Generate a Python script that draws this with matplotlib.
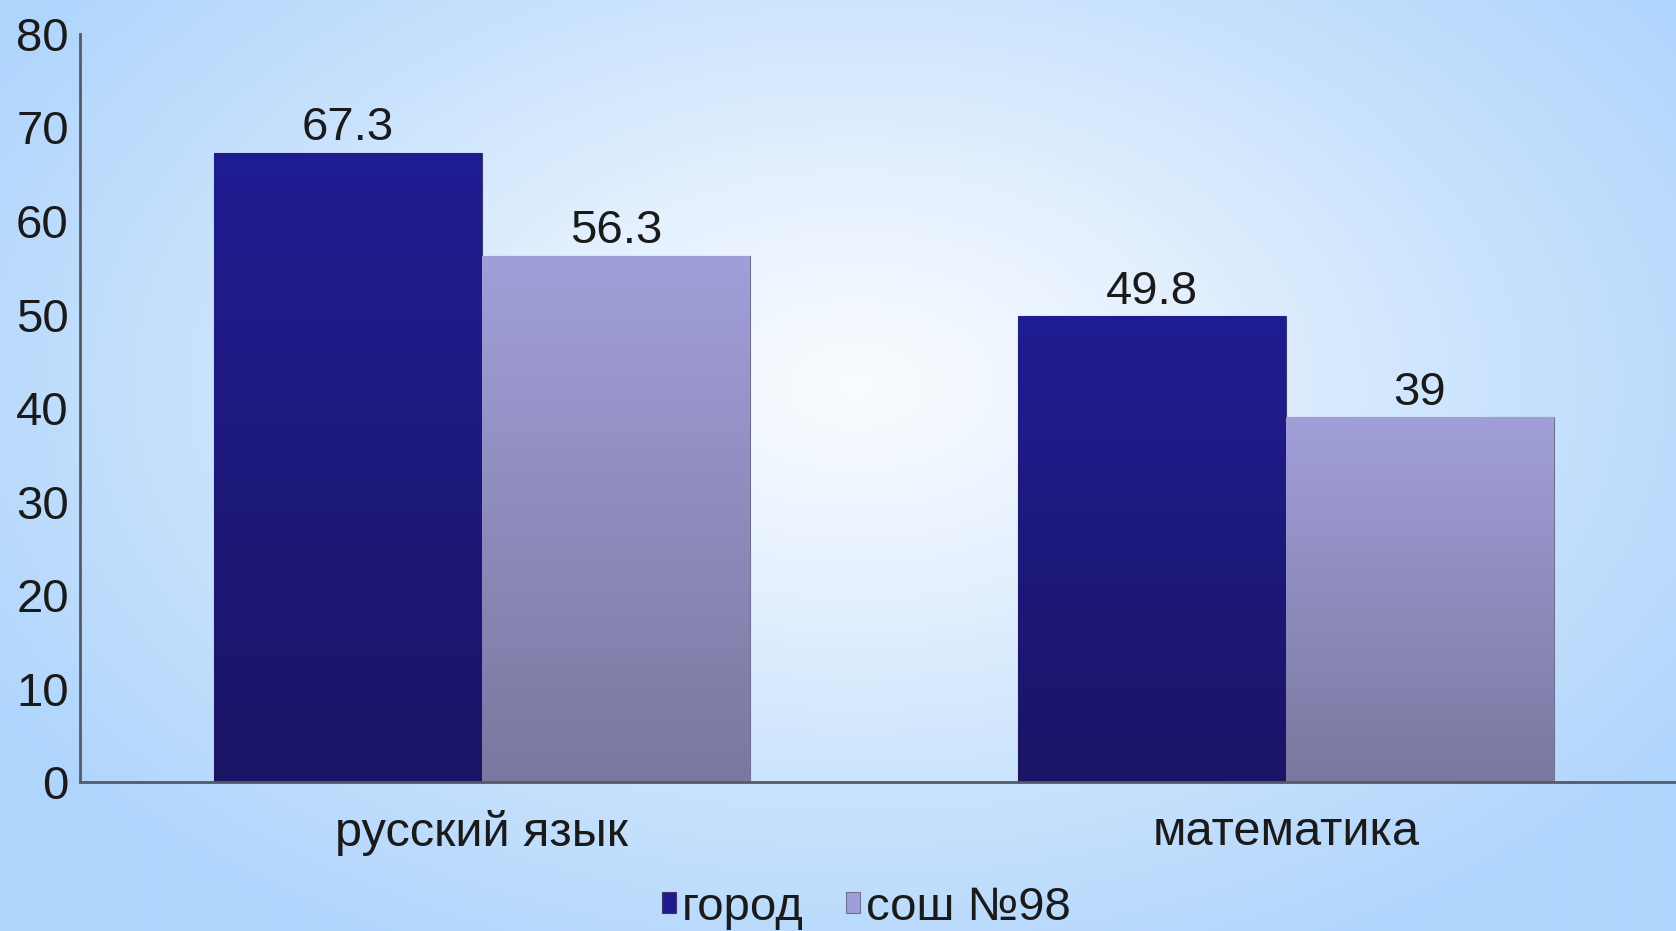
import numpy as np
import matplotlib.pyplot as plt
from matplotlib.colors import LinearSegmentedColormap

plt.rcParams['font.family'] = ['Liberation Sans', 'DejaVu Sans']

categories = ['русский язык', 'математика']
series_names = ['город', 'сош №98']
gorod = [67.3, 49.8]
sosh98 = [56.3, 39]
value_labels = [['67.3', '49.8'], ['56.3', '39']]

fig = plt.figure(figsize=(16.76, 9.31), dpi=100)

# radial gradient background
bg = fig.add_axes([0, 0, 1, 1])
yy, xx = np.mgrid[0:931, 0:1676]
r = np.sqrt(((xx - 855) / 1000.0) ** 2 + ((yy - 385) / 640.0) ** 2)
r = np.clip(r, 0, 1)
bg_cmap = LinearSegmentedColormap.from_list('bg', ['#fafcff', '#e4f0fe', '#c8e2fd', '#b0d5fc'])
bg.imshow(r, cmap=bg_cmap, aspect='auto', extent=[0, 1, 0, 1], vmin=0, vmax=1)
bg.axis('off')

ax = fig.add_axes([0.0477, 0.160, 0.9523, 0.8035])
ax.patch.set_alpha(0)

x = np.arange(len(categories))
w = 0.333
b1 = ax.bar(x - w / 2, gorod, w, color='#1f1b8e', edgecolor='#3a3a6a', linewidth=0.8, label=series_names[0])
b2 = ax.bar(x + w / 2, sosh98, w, color='#a09ed8', edgecolor='#707090', linewidth=0.8, label=series_names[1])

grads = [('#201c92', '#1a1565'), ('#a19fd9', '#7a789f')]
for bars, (top, bot) in zip([b1, b2], grads):
    cm = LinearSegmentedColormap.from_list('g', [bot, top])
    for bar in bars:
        bx, by = bar.get_x(), bar.get_y()
        bw, bh = bar.get_width(), bar.get_height()
        im = ax.imshow(np.linspace(0, 1, 256).reshape(-1, 1), cmap=cm, origin='lower',
                       extent=[bx, bx + bw, by, by + bh], aspect='auto', zorder=bar.get_zorder() + 0.1)
        im.set_clip_path(bar)

for bars, labs in zip([b1, b2], value_labels):
    for bar, lab in zip(bars, labs):
        ax.text(bar.get_x() + bar.get_width() / 2, bar.get_height() + 0.3, lab,
                ha='center', va='bottom', fontsize=34, color='#1a1a1a')

ax.set_xlim(-0.5, 1.485)
ax.set_ylim(0, 80)
ax.set_yticks(range(0, 81, 10))
ax.set_xticks(x)
ax.set_xticklabels(categories)
ax.tick_params(axis='y', length=0, labelsize=34, pad=8, colors='#1a1a1a')
ax.tick_params(axis='x', length=0, labelsize=35, pad=20, colors='#1a1a1a')
for s in ['top', 'right']:
    ax.spines[s].set_visible(False)
for s in ['left', 'bottom']:
    ax.spines[s].set_color('#555a66')
    ax.spines[s].set_linewidth(2)

ax.legend(loc='center', bbox_to_anchor=(0.4925, -0.168), ncol=2, frameon=False,
          fontsize=34, handlelength=0.3, handleheight=0.3, handletextpad=0.12,
          columnspacing=0.9, labelcolor='#1a1a1a', borderpad=0)

fig.savefig('out.png', dpi=100)
